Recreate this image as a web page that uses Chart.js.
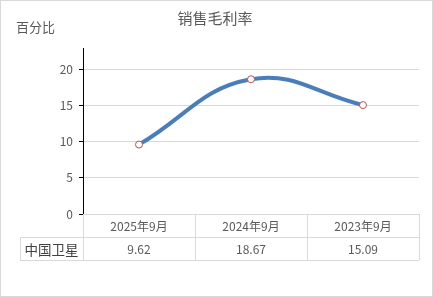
<!DOCTYPE html>
<html>
<head>
<meta charset="utf-8">
<script src="https://cdn.jsdelivr.net/npm/chart.js@4"></script>
<style>
  html, body { margin: 0; padding: 0; background: #fff; }
  #wrap { position: relative; width: 433px; height: 297px; box-sizing: border-box; border: 1px solid #d9d9d9; }
  canvas { display: block; }
</style>
</head>
<body>
<div id="wrap"><canvas id="chart" width="431" height="295"></canvas></div>
<script>
// Chart data
const chartTitle = '销售毛利率';
const yLabel = '百分比';
const periods = ['2025年9月', '2024年9月', '2023年9月'];
const seriesName = '中国卫星';
const grossMargin = [9.62, 18.67, 15.09];
const yTicks = [0, 5, 10, 15, 20];

const FONT = '"Noto Sans CJK SC", "Microsoft YaHei", sans-serif';
const TEXT = '#595959';
const GRID = '#d9d9d9';

// Draws the title, the y label and the data table under the plot
const tablePlugin = {
    id: 'tablePlugin',
    afterDraw(chart) {
        const ctx = chart.ctx;
        const area = chart.chartArea;
        const x = chart.scales.x;
        const rowH = 23;
        const top = area.bottom;
        const labelLeft = 19;

        ctx.save();
        // title
        ctx.fillStyle = TEXT;
        ctx.font = '15px ' + FONT;
        ctx.textAlign = 'center';
        ctx.textBaseline = 'middle';
        ctx.fillText(chartTitle, 214, 17);

        // y label
        ctx.font = '13px ' + FONT;
        ctx.textAlign = 'left';
        ctx.fillText(yLabel, 15, 26);

        // table grid
        const colW = (area.right - area.left) / periods.length;
        ctx.strokeStyle = GRID;
        ctx.lineWidth = 1;
        ctx.beginPath();
        // horizontal lines
        ctx.moveTo(area.left, top + 0.5); ctx.lineTo(area.right, top + 0.5);
        ctx.moveTo(labelLeft, top + rowH + 0.5); ctx.lineTo(area.right, top + rowH + 0.5);
        ctx.moveTo(labelLeft, top + 2 * rowH + 0.5); ctx.lineTo(area.right, top + 2 * rowH + 0.5);
        // vertical lines
        ctx.moveTo(labelLeft + 0.5, top + rowH); ctx.lineTo(labelLeft + 0.5, top + 2 * rowH);
        for (let i = 0; i <= periods.length; i++) {
            const cx = Math.round(area.left + i * colW) + 0.5;
            ctx.moveTo(cx, top); ctx.lineTo(cx, top + 2 * rowH);
        }
        ctx.stroke();

        // header and values
        ctx.font = '12px ' + FONT;
        ctx.textAlign = 'center';
        ctx.fillStyle = TEXT;
        periods.forEach((p, i) => {
            const cx = x.getPixelForValue(i);
            ctx.fillText(p, cx, top + rowH / 2 + 1);
            ctx.fillText(grossMargin[i].toFixed(2), cx, top + rowH * 1.5 + 1);
        });

        // row label
        ctx.font = '13.5px ' + FONT;
        ctx.fillStyle = '#404040';
        ctx.fillText(seriesName, (labelLeft + area.left) / 2, top + rowH * 1.5 + 1);
        ctx.restore();
    }
};

new Chart(document.getElementById('chart'), {
    type: 'line',
    data: {
        labels: periods,
        datasets: [{
            label: seriesName,
            data: grossMargin,
            borderColor: '#4a7ebb',
            borderWidth: 4,
            tension: 0.42,
            pointRadius: 3.5,
            pointBackgroundColor: '#ffffff',
            pointBorderColor: '#c0504d',
            pointBorderWidth: 1
        }]
    },
    options: {
        responsive: false,
        animation: false,
        layout: { padding: { top: 47, right: 13, bottom: 82, left: 0 } },
        plugins: {
            legend: { display: false },
            tooltip: { enabled: false },
            title: { display: false }
        },
        scales: {
            x: {
                type: 'category',
                offset: true,
                display: false
            },
            y: {
                min: 0,
                max: 23,
                afterBuildTicks: axis => {
                    axis.ticks = yTicks.map(v => ({ value: v }));
                },
                afterFit: axis => { axis.width = 82; },
                border: { color: '#000000', width: 1 },
                grid: {
                    color: GRID,
                    tickColor: '#000000',
                    tickLength: 4,
                    drawTicks: true
                },
                ticks: {
                    color: TEXT,
                    padding: 6,
                    font: { size: 12, family: FONT }
                }
            }
        }
    },
    plugins: [tablePlugin]
});
</script>
</body>
</html>
